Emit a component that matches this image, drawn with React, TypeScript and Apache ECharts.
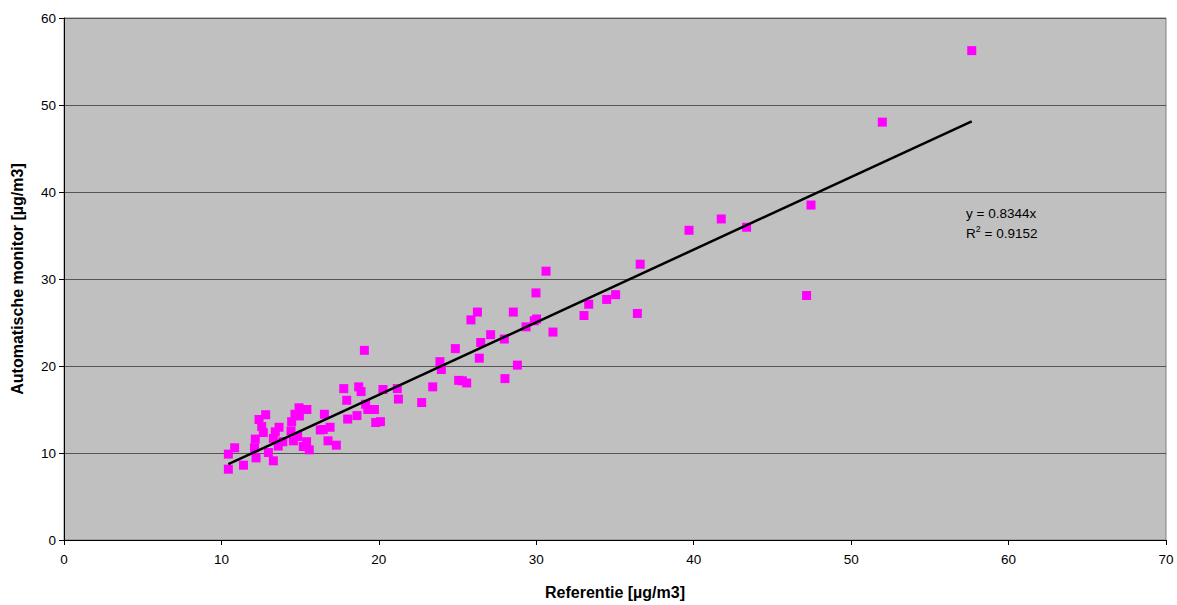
import React, { useEffect, useRef } from "react";
import * as echarts from "echarts";

const refX: number[] = [
  10.44, 10.44, 10.84, 11.4, 12.1, 12.15, 12.2, 12.39, 12.81, 12.56, 12.66, 12.98, 13.3, 13.3, 13.42, 13.66,
  13.61, 13.9, 14.42, 14.46, 14.57, 14.84, 14.67, 14.95, 14.93, 15.43, 15.41, 15.58, 15.2, 16.28, 16.47, 16.54,
  16.9, 16.77, 17.3, 17.77, 17.96, 18.02, 18.61, 18.72, 18.87, 19.08, 19.16, 19.3, 19.72, 19.8, 20.1, 20.26,
  21.17, 21.24, 22.72,
  23.42, 23.88, 23.97, 24.86, 25.07, 25.3, 25.58, 25.85, 26.26, 26.38, 26.47, 27.1, 27.97, 28.01, 28.54, 28.8,
  29.35, 29.87, 30.02, 29.98, 30.62, 31.06, 33.03, 33.33, 34.47, 35.04, 36.42, 36.6, 39.7, 41.75, 43.36, 47.17,
  47.45, 51.98, 57.66,
];
const monY: number[] = [
  9.87, 8.14, 10.6, 8.6, 10.6, 11.6, 9.44, 13.85, 14.4, 13.04, 12.35, 10.06, 9.1, 11.67, 12.43, 12.96,
  10.8, 11.3, 12.54, 13.6, 11.4, 11.9, 14.45, 14.26, 15.2, 15.0, 11.3, 10.36, 10.75, 12.65, 12.7, 14.45,
  12.96, 11.4, 10.9, 17.4, 16.06, 13.9, 14.3, 17.6, 17.06, 21.8, 15.6, 15.0, 15.0, 13.5, 13.6, 17.3,
  17.4, 16.2, 15.8,
  17.6, 20.5, 19.6, 22.0, 18.35, 18.3, 18.05, 25.3, 26.2, 20.9, 22.7, 23.6, 23.1, 18.55, 26.2, 20.1,
  24.5, 25.2, 25.4, 28.4, 30.9, 23.9, 25.8, 27.1, 27.65, 28.2, 26.04, 31.7, 35.6, 36.9, 35.95, 28.1,
  38.5, 48.03, 56.25,
];
const slope = 0.8344;
const r2 = 0.9152;
const xTicks = [0, 10, 20, 30, 40, 50, 60, 70];
const yTicks = [0, 10, 20, 30, 40, 50, 60];

export default function App() {
  const ref = useRef<HTMLDivElement>(null);
  useEffect(() => {
    if (!ref.current) return;
    const chart = echarts.init(ref.current, undefined, { renderer: "svg" });
    const pts = refX.map((x, i) => [x, monY[i]]);
    const xMin = Math.min(...refX);
    const xMax = Math.max(...refX);
    const font = "Liberation Sans, Arial, sans-serif";
    chart.setOption({
      animation: false,
      backgroundColor: "#ffffff",
      grid: {
        left: 64,
        right: 11,
        top: 18,
        bottom: 64,
        show: true,
        backgroundColor: "#C0C0C0",
        borderColor: "#808080",
        borderWidth: 1,
      },
      xAxis: {
        type: "value",
        min: xTicks[0],
        max: xTicks[xTicks.length - 1],
        interval: 10,
        name: "Referentie [µg/m3]",
        nameLocation: "middle",
        nameGap: 44,
        nameTextStyle: { fontFamily: font, fontSize: 16, fontWeight: "bold", color: "#000" },
        axisLine: { show: true, lineStyle: { color: "#000", width: 1 } },
        axisTick: { show: true, length: 5, lineStyle: { color: "#000" } },
        axisLabel: { fontFamily: font, fontSize: 13.5, color: "#000", margin: 12 },
        splitLine: { show: false },
      },
      yAxis: {
        type: "value",
        min: yTicks[0],
        max: yTicks[yTicks.length - 1],
        interval: 10,
        name: "Automatische monitor [µg/m3]",
        nameLocation: "middle",
        nameGap: 39,
        nameTextStyle: { fontFamily: font, fontSize: 16, fontWeight: "bold", color: "#000" },
        axisLine: { show: true, lineStyle: { color: "#000", width: 1 } },
        axisTick: { show: true, length: 5, lineStyle: { color: "#000" } },
        axisLabel: { fontFamily: font, fontSize: 13.5, color: "#000", margin: 8 },
        splitLine: { show: true, lineStyle: { color: "#555555", width: 1 } },
      },
      series: [
        {
          type: "scatter",
          data: pts,
          symbol: "rect",
          symbolSize: 9,
          itemStyle: { color: "#FF00FF", opacity: 1 },
          z: 2,
        },
        {
          type: "line",
          data: [
            [xMin, slope * xMin],
            [xMax, slope * xMax],
          ],
          symbol: "none",
          lineStyle: { color: "#000", width: 2.5 },
          z: 3,
        },
      ],
      graphic: [
        {
          type: "text",
          left: 966,
          top: 206,
          style: {
            text: `y = ${slope}x`,
            font: `13.5px ${font}`,
            fill: "#000",
          },
        },
        {
          type: "text",
          left: 966,
          top: 224,
          style: {
            text: `R{sup|2} = ${r2}`,
            font: `13.5px ${font}`,
            fill: "#000",
            rich: {
              sup: { fontSize: 9, fontFamily: font, verticalAlign: "top", padding: [0, 0, 9, 0], fill: "#000" },
            },
          },
        },
      ],
    });
    return () => chart.dispose();
  }, []);
  return (
    <div
      ref={ref}
      style={{ position: "fixed", left: 0, top: 0, width: 1177, height: 605 }}
    />
  );
}
